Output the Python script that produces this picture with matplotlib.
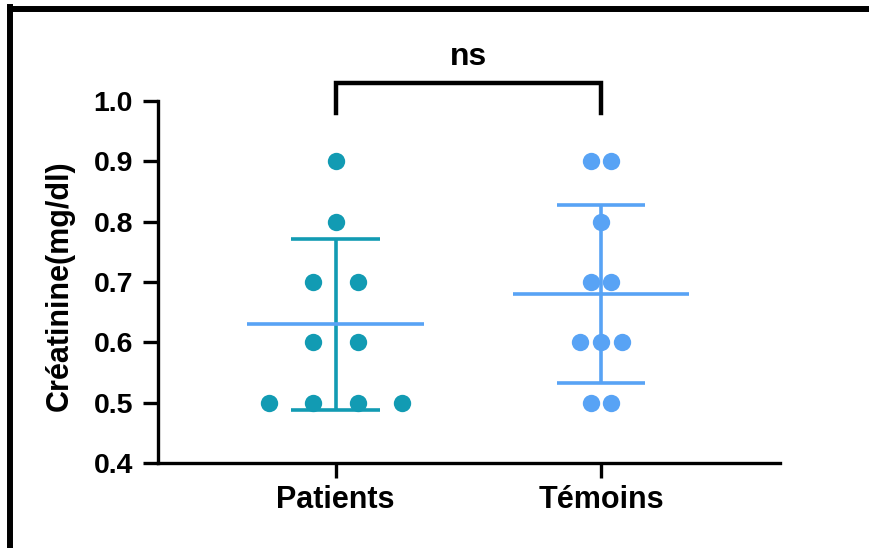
import numpy as np
import matplotlib.pyplot as plt
from matplotlib.lines import Line2D

plt.rcParams['font.family'] = ['Liberation Sans', 'DejaVu Sans']
plt.rcParams['font.weight'] = 'bold'

groups = ['Patients', 'Témoins']
patients = [0.9, 0.8, 0.7, 0.7, 0.6, 0.6, 0.5, 0.5, 0.5, 0.5]
temoins = [0.9, 0.9, 0.8, 0.7, 0.7, 0.6, 0.6, 0.6, 0.5, 0.5]
yticks = [0.4, 0.5, 0.6, 0.7, 0.8, 0.9, 1.0]

teal = '#129BB3'
blue = '#58A3F5'
dot_cols = [teal, blue]
sd_cols = [teal, blue]
mean_cols = [blue, blue]
spread = [0.166, 0.078]   # horizontal spacing between tied points

fig = plt.figure(figsize=(8.69, 5.48), dpi=100)
ax = fig.add_axes([158/869, 85/548, 622/869, 362/548])

for i, vals in enumerate([patients, temoins]):
    vals = np.array(vals)
    # spread tied values side by side around the group centre
    for v in np.unique(vals):
        n = np.sum(vals == v)
        xs = i + (np.arange(n) - (n - 1) / 2) * spread[i]
        ax.plot(xs, [v] * n, 'o', color=dot_cols[i], ms=12.5, mew=0, zorder=2)
    m = vals.mean()
    sd = vals.std(ddof=1)
    ax.plot([i, i], [m - sd, m + sd], color=sd_cols[i], lw=2.6, zorder=3,
            solid_capstyle='butt')
    for y in (m - sd, m + sd):
        ax.plot([i - 0.166, i + 0.166], [y, y], color=sd_cols[i], lw=2.6,
                zorder=3, solid_capstyle='butt')
    ax.plot([i - 0.333, i + 0.333], [m, m], color=mean_cols[i], lw=2.6,
            zorder=4, solid_capstyle='butt')

ax.set_xlim(-0.6685, 1.674)
ax.set_ylim(0.4, 1.0)
ax.set_xticks([0, 1])
ax.set_xticklabels(groups, fontsize=22, fontweight='bold')
ax.set_yticks(yticks)
ax.set_yticklabels([f'{t:.1f}' for t in yticks], fontsize=20.5, fontweight='bold')
ax.set_ylabel('Créatinine(mg/dl)', fontsize=22, fontweight='bold')
ax.yaxis.set_label_coords(-0.134, 0.49)
for s in ['top', 'right']:
    ax.spines[s].set_visible(False)
for s in ['left', 'bottom']:
    ax.spines[s].set_linewidth(2.4)
ax.tick_params(width=2.4, length=11)
ax.tick_params(axis='y', pad=7)
ax.tick_params(axis='x', pad=5)

# significance bracket
ax.plot([0, 0, 1, 1], [0.98, 1.03, 1.03, 0.98], color='black', lw=3.2,
        clip_on=False, solid_joinstyle='miter')
ax.text(0.5, 1.073, 'ns', ha='center', va='center', fontsize=23,
        fontweight='bold', clip_on=False)

# outer frame, open to the right and bottom
W, H = 869, 548
fig.add_artist(Line2D([10/W, 10/W], [0, 1 - 7/H], color='black', lw=4.3,
                      transform=fig.transFigure, solid_capstyle='projecting'))
fig.add_artist(Line2D([10/W, 1], [1 - 9/H, 1 - 9/H], color='black', lw=4.3,
                      transform=fig.transFigure, solid_capstyle='projecting'))

fig.savefig('out.png', dpi=100)
